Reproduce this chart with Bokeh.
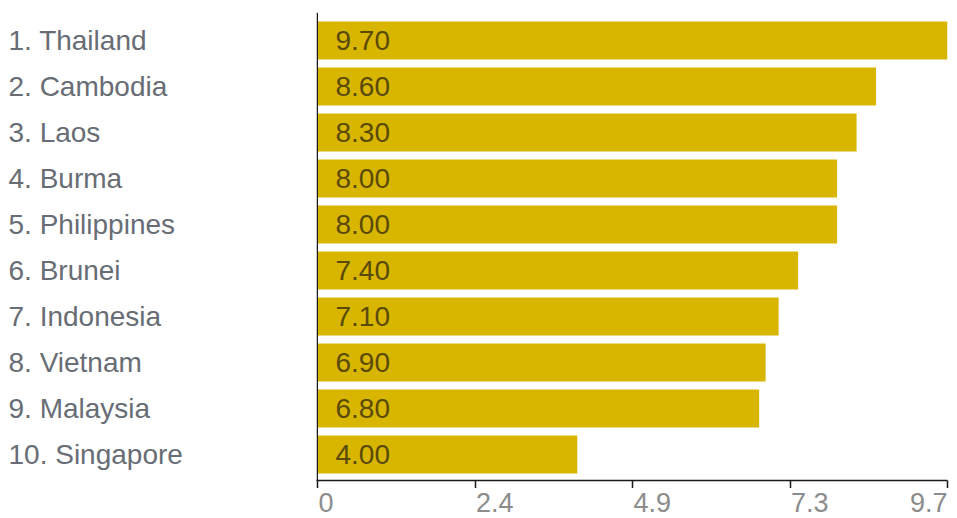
from bokeh.plotting import figure
from bokeh.layouts import row, column
from bokeh.models import Range1d, FixedTicker, CustomJSTickFormatter, ColumnDataSource, Span
from bokeh.core.properties import value
from bokeh.embed import file_html
from bokeh.resources import INLINE

countries = ["1. Thailand", "2. Cambodia", "3. Laos", "4. Burma", "5. Philippines",
             "6. Brunei", "7. Indonesia", "8. Vietnam", "9. Malaysia", "10. Singapore"]
scores = [9.70, 8.60, 8.30, 8.00, 8.00, 7.40, 7.10, 6.90, 6.80, 4.00]
tick_values = [0, 2.425, 4.85, 7.275, 9.7]
tick_labels = ["0", "2.4", "4.9", "7.3", "9.7"]

W, H = 957, 518
LEFT_W = 306          # width of the category-label column
MAIN_BORDER_L = 10    # main frame starts at LEFT_W + MAIN_BORDER_L = 316
RIGHT = 10
TOP = 12
FRAME_BOTTOM = 480
TICK_LEN = 8
TOP_H = FRAME_BOTTOM + TICK_LEN      # 488
TICK_H = H - TOP_H                   # 30
XMAX = 9.7
PX_PER_X = 630 / XMAX               # x = 0 at 317 px, x = 9.7 at 947 px
X0 = -1 / PX_PER_X                  # frame starts one pixel left of zero
ROW_PX = 46.0
frame_h = FRAME_BOTTOM - TOP
y_top = -(40 - TOP) / ROW_PX
y_bot = y_top + frame_h / ROW_PX

FONT = "Liberation Sans"
BAR = "#d8b600"
AXIS = "#1a1a1a"

yr = Range1d(y_bot, y_top)
xr = Range1d(X0, XMAX)


def bare(fig):
    fig.outline_line_color = None
    fig.grid.visible = False
    fig.background_fill_color = "white"
    fig.border_fill_color = "white"
    return fig


# ---- category labels column ----
lab = bare(figure(width=LEFT_W, height=TOP_H, output_backend="svg", toolbar_location=None,
                  x_range=Range1d(0, LEFT_W), y_range=yr,
                  x_axis_location=None, y_axis_location=None,
                  min_border_left=0, min_border_right=0,
                  min_border_top=TOP, min_border_bottom=TICK_LEN))
ys = list(range(len(countries)))
lab.text(x=[8] * len(countries), y=ys, text=countries,
         text_font=value(FONT), text_font_size="28px", text_color="#686d75",
         text_align="left", text_baseline="middle")

# ---- main bar chart ----
p = bare(figure(width=W - LEFT_W, height=TOP_H, output_backend="svg", toolbar_location=None,
                x_range=xr, y_range=yr, y_axis_location=None,
                min_border_left=MAIN_BORDER_L, min_border_right=RIGHT,
                min_border_top=TOP, min_border_bottom=TICK_LEN))
src = ColumnDataSource(dict(y=ys, score=scores,
                            txt=["%.2f" % s for s in scores],
                            zero=[0] * len(scores)))
p.hbar(y="y", left="zero", right="score", height=38 / ROW_PX, source=src,
       fill_color=BAR, line_color=None)
p.text(x="zero", y="y", text="txt", source=src, x_offset=18,
       text_font=value(FONT), text_font_size="28px", text_color="#5a4a08",
       text_align="left", text_baseline="middle")
p.add_layout(Span(location=X0 + 0.75 / PX_PER_X, dimension="height",
                  line_color=AXIS, line_width=1.5))

xa = p.xaxis[0]
xa.ticker = FixedTicker(ticks=tick_values)
xa.formatter = CustomJSTickFormatter(code="return ''")
xa.minor_tick_line_color = None
xa.major_tick_out = TICK_LEN
xa.major_tick_in = 0
xa.axis_line_color = AXIS
xa.axis_line_width = 1.5
xa.major_tick_line_color = AXIS
xa.major_tick_line_width = 1.5
xa.major_label_text_font_size = "0px"
xa.major_label_standoff = 0

# ---- tick labels strip ----
tk = bare(figure(width=W, height=TICK_H, output_backend="svg", toolbar_location=None,
                 x_range=xr, y_range=Range1d(0, TICK_H),
                 x_axis_location=None, y_axis_location=None,
                 min_border_left=LEFT_W + MAIN_BORDER_L, min_border_right=RIGHT,
                 min_border_top=0, min_border_bottom=0))
n = len(tick_values)
tk.text(x=tick_values[:-1], y=[16] * (n - 1), text=tick_labels[:-1], x_offset=1,
        text_font=value(FONT), text_font_size="27px", text_color="#8c8c8c",
        text_align="left", text_baseline="middle")
tk.text(x=tick_values[-1:], y=[16], text=tick_labels[-1:],
        text_font=value(FONT), text_font_size="27px", text_color="#8c8c8c",
        text_align="right", text_baseline="middle")

layout = column(row(lab, p), tk)
open("out.html", "w").write(file_html(layout, INLINE))
